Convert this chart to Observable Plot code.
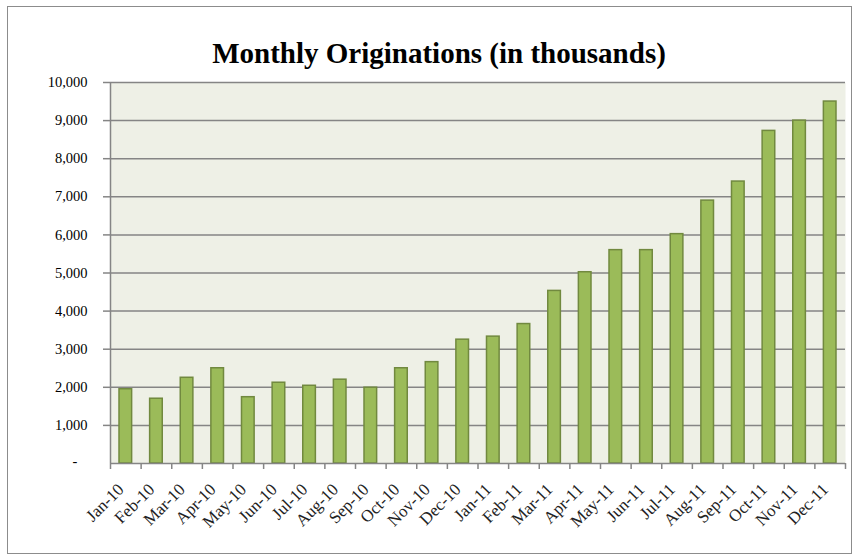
<!DOCTYPE html>
<html><head><meta charset="utf-8">
<script src="https://cdn.jsdelivr.net/npm/d3@7"></script>
<script src="https://cdn.jsdelivr.net/npm/@observablehq/plot@0.6"></script>
<style>
body{margin:0;background:#fff;}
#wrap{position:relative;width:855px;height:556px;}
#border{position:absolute;left:7px;top:6px;width:845px;height:548px;border:1.5px solid #8c8c8c;box-sizing:border-box;}
#chart{position:absolute;left:0;top:0;}
</style></head><body>
<div id="wrap"><div id="border"></div><div id="chart"></div></div>
<script>
const months = ["Jan-10","Feb-10","Mar-10","Apr-10","May-10","Jun-10","Jul-10","Aug-10","Sep-10","Oct-10","Nov-10","Dec-10",
                "Jan-11","Feb-11","Mar-11","Apr-11","May-11","Jun-11","Jul-11","Aug-11","Sep-11","Oct-11","Nov-11","Dec-11"];
const values = [1950,1700,2250,2500,1740,2120,2040,2200,1990,2500,2660,3250,
                3330,3660,4530,5020,5600,5600,6020,6900,7400,8730,9000,9500];
const yTicks = [1000,2000,3000,4000,5000,6000,7000,8000,9000,10000];
const zeroLabel = "-";
const title = "Monthly Originations (in thousands)";

const data = months.map((m, i) => ({month: m, i, value: values[i]}));
const boundaries = d3.range(months.length + 1);
const serif = "'Liberation Serif', 'Times New Roman', serif";

const plot = Plot.plot({
  width: 855, height: 556,
  marginLeft: 110, marginRight: 10, marginTop: 82, marginBottom: 93,
  style: {fontFamily: serif, fontSize: "14.5px", color: "#000", background: "transparent", overflow: "visible"},
  x: {domain: [0, months.length], axis: null, label: null},
  y: {domain: [0, 10000], axis: null, label: null},
  marks: [
    Plot.frame({fill: "#eef0e6", stroke: null}),
    Plot.ruleY(yTicks, {stroke: "#858585", strokeWidth: 1.5}),
    Plot.rectY(data, {x1: "i", x2: d => d.i + 1, y: "value", insetLeft: 9, insetRight: 9,
      fill: "#9bbb59", stroke: "#71893f", strokeWidth: 1.5}),
    Plot.ruleX([0], {stroke: "#858585", strokeWidth: 1.5}),
    Plot.ruleY([0], {stroke: "#858585", strokeWidth: 1.5}),
    Plot.axisY(yTicks, {label: null, tickFormat: d3.format(","), tickSize: 7, tickPadding: 16,
      stroke: "#858585", fill: "#000", fontSize: 14.5, strokeWidth: 1.5}),
    Plot.text([zeroLabel], {frameAnchor: "bottom-left", dx: -38, dy: 2, fontSize: 14.5, fill: "#000"}),
    Plot.axisX(boundaries, {label: null, tickSize: 6, tickFormat: () => "", stroke: "#858585", strokeWidth: 1.5}),
    Plot.text(data, {x: d => d.i + 0.5, text: "month", frameAnchor: "bottom", rotate: -45,
      textAnchor: "end", dx: -1, dy: 27, fontSize: 17, fill: "#222"}),
    Plot.text([title], {frameAnchor: "top", dx: -39, dy: -40, fontSize: 29, fontWeight: "bold", fill: "#000"})
  ]
});
document.getElementById("chart").appendChild(plot);
</script>
</body></html>
